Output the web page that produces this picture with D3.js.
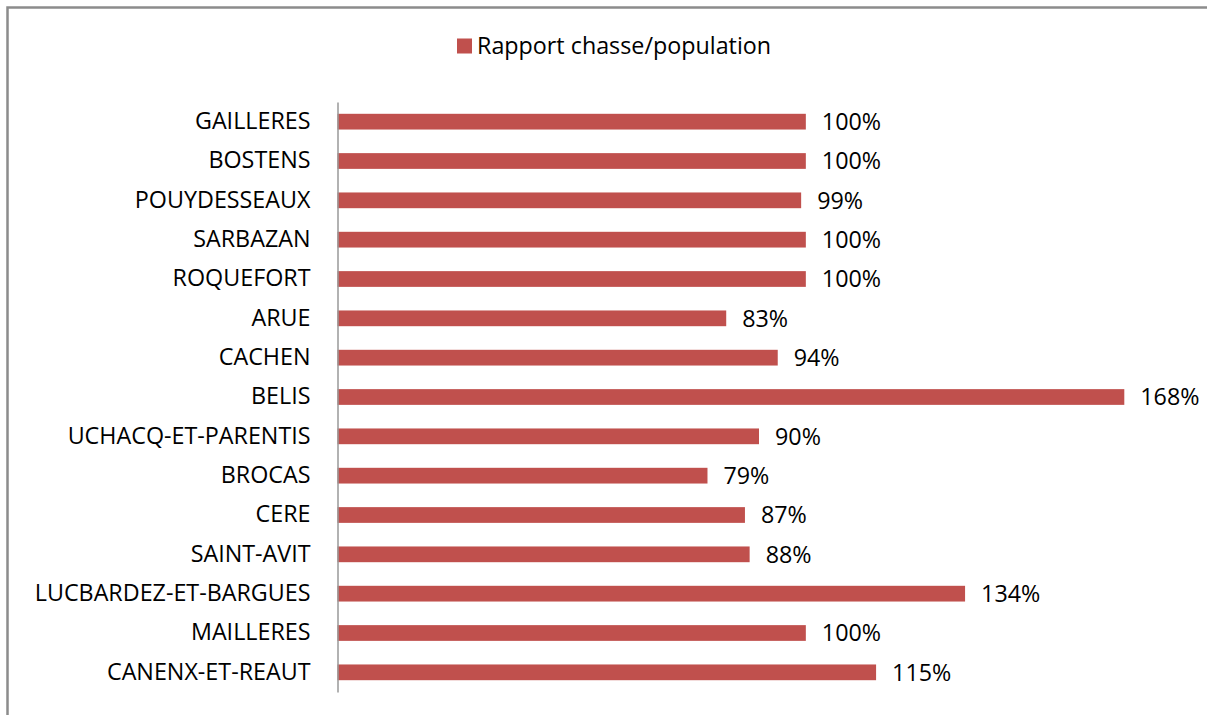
<!DOCTYPE html>
<html>
<head>
<meta charset="utf-8">
<script src="https://cdn.jsdelivr.net/npm/d3@7"></script>
<style>
  html, body { margin: 0; padding: 0; background: #fff; }
  svg { display: block; }
  text { font-family: "Open Sans", "Noto Sans", sans-serif; fill: #000; }
</style>
</head>
<body>
<svg id="chart" width="1207" height="715"></svg>
<script>
// Communes, top to bottom
const communes = [
  "GAILLERES", "BOSTENS", "POUYDESSEAUX", "SARBAZAN", "ROQUEFORT",
  "ARUE", "CACHEN", "BELIS", "UCHACQ-ET-PARENTIS", "BROCAS",
  "CERE", "SAINT-AVIT", "LUCBARDEZ-ET-BARGUES", "MAILLERES", "CANENX-ET-REAUT"
];
// Hunting / population ratio (fraction)
const rapport = [1.00, 1.00, 0.99, 1.00, 1.00, 0.83, 0.94, 1.68, 0.90, 0.79, 0.87, 0.88, 1.34, 1.00, 1.15];
const seriesName = "Rapport chasse/population";

const W = 1207, H = 715;
const barColor = "#C0504D";
const fontSize = 23.3;
const svg = d3.select("#chart");

// Chart frame
svg.append("rect")
  .attr("x", 7.5).attr("y", 7.5)
  .attr("width", W + 20).attr("height", H + 20)
  .attr("fill", "#fff")
  .attr("stroke", "#8c8c8c").attr("stroke-width", 2.5);

const plot = { left: 337.5, top: 102, bottom: 692 };

const x = d3.scaleLinear().domain([0, 1.8]).range([plot.left, plot.left + 843]);
const y = d3.scaleBand().domain(communes).range([plot.top, plot.bottom]).paddingInner(0.6).paddingOuter(0.3);

const data = communes.map((c, i) => ({ name: c, value: rapport[i] }));

// Bars
svg.append("g").selectAll("rect").data(data).join("rect")
  .attr("x", x(0))
  .attr("y", d => y(d.name))
  .attr("width", d => x(d.value) - x(0))
  .attr("height", y.bandwidth())
  .attr("fill", barColor);

// Category axis
const yAxis = d3.axisLeft(y).tickSize(0).tickPadding(27);
const gy = svg.append("g").attr("transform", `translate(${plot.left},0)`).call(yAxis);
gy.select(".domain").attr("stroke", "#999").attr("stroke-width", 1.5);
gy.selectAll("text")
  .attr("font-size", fontSize)
  .attr("font-family", '"Open Sans", "Noto Sans", sans-serif')
  .attr("fill", "#000");

// Value labels
const fmt = d3.format(".0%");
svg.append("g").selectAll("text").data(data).join("text")
  .attr("x", d => x(d.value) + 16)
  .attr("y", d => y(d.name) + y.bandwidth() / 2)
  .attr("dy", "0.36em")
  .attr("font-size", fontSize)
  .text(d => fmt(d.value));

// Legend
const lg = svg.append("g").attr("transform", "translate(457,38.5)");
lg.append("rect").attr("width", 15).attr("height", 15).attr("fill", barColor);
lg.append("text").attr("x", 20).attr("y", 7.5).attr("dy", "0.36em").attr("font-size", fontSize).text(seriesName);
</script>
</body>
</html>
